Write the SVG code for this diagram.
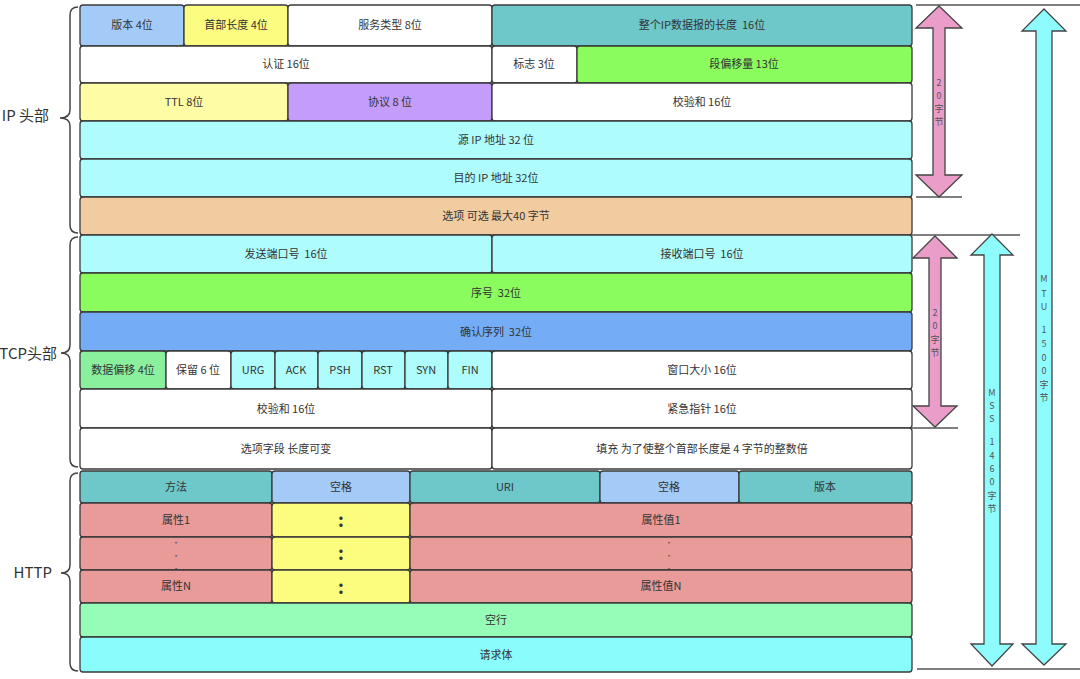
<svg xmlns="http://www.w3.org/2000/svg" width="1080" height="679" viewBox="0 0 1080 679">
<style>
.c{stroke:#3a3a3a;stroke-width:1.3}
text{font-family:"Noto Sans CJK SC","Liberation Sans",sans-serif;font-size:11px;fill:#333;text-anchor:middle;white-space:pre}
.lbl{font-size:15px;text-anchor:end}
.v{font-size:9px;fill:#555}
.br{fill:none;stroke:#444;stroke-width:1.5}
.hl{stroke:#555;stroke-width:1.5}
.ar{stroke:#444;stroke-width:1.3}
.dot{font-size:18px;font-weight:bold}
.sd{font-size:8px;fill:#555}
</style>
<rect width="1080" height="679" fill="#fff"/>

<g id="labels">
<text class="lbl" x="49" y="121">IP 头部</text>
<text class="lbl" x="57" y="359">TCP头部</text>
<text class="lbl" x="52" y="578">HTTP</text>
<path class="br" d="M78,7 Q70,7 70,15 L70,110 Q70,118 60,118 Q70,118 70,126 L70,225 Q70,233 78,233"/>
<path class="br" d="M78,237 Q70,237 70,245 L70,345 Q70,353 61,353 Q70,353 70,361 L70,459 Q70,467 78,467"/>
<path class="br" d="M78,473 Q70,473 70,481 L70,565 Q70,573 61,573 Q70,573 70,581 L70,663 Q70,671 78,671"/>
</g>

<g id="ip">
<g id="ip-version"><rect class="c" x="80" y="5" width="104" height="41" rx="3" fill="#a4cbf8"/><text x="132" y="29">版本 4位</text></g>
<g id="ip-hlen"><rect class="c" x="184" y="5" width="104" height="41" rx="3" fill="#fcfc80"/><text x="236" y="29">首部长度 4位</text></g>
<g id="ip-tos"><rect class="c" x="288" y="5" width="204" height="41" rx="3" fill="#fff"/><text x="390" y="29">服务类型 8位</text></g>
<g id="ip-len"><rect class="c" x="492" y="5" width="420" height="41" rx="3" fill="#6ec7c9"/><text x="702" y="29">整个IP数据报的长度  16位</text></g>
<g id="ip-id"><rect class="c" x="80" y="46" width="412" height="37" rx="3" fill="#fff"/><text x="286" y="68">认证 16位</text></g>
<g id="ip-flag"><rect class="c" x="492" y="46" width="85" height="37" rx="3" fill="#fff"/><text x="534" y="68">标志 3位</text></g>
<g id="ip-off"><rect class="c" x="577" y="46" width="335" height="37" rx="3" fill="#8afc5e"/><text x="744" y="68">段偏移量 13位</text></g>
<g id="ip-ttl"><rect class="c" x="80" y="83" width="208" height="38" rx="3" fill="#fffca6"/><text x="184" y="106">TTL 8位</text></g>
<g id="ip-proto"><rect class="c" x="288" y="83" width="204" height="38" rx="3" fill="#c39df9"/><text x="390" y="106">协议 8 位</text></g>
<g id="ip-csum"><rect class="c" x="492" y="83" width="420" height="38" rx="3" fill="#fff"/><text x="702" y="106">校验和 16位</text></g>
<g id="ip-src"><rect class="c" x="80" y="121" width="832" height="38" rx="3" fill="#aefcfc"/><text x="496" y="144">源 IP 地址 32 位</text></g>
<g id="ip-dst"><rect class="c" x="80" y="159" width="832" height="38" rx="3" fill="#aefcfc"/><text x="496" y="182">目的 IP 地址 32位</text></g>
<g id="ip-opt"><rect class="c" x="80" y="197" width="832" height="38" rx="3" fill="#f1cca0"/><text x="496" y="220">选项 可选 最大40 字节</text></g>
</g>

<g id="tcp">
<g id="tcp-sport"><rect class="c" x="80" y="235" width="412" height="38" rx="3" fill="#aefcfc"/><text x="286" y="258">发送端口号  16位</text></g>
<g id="tcp-dport"><rect class="c" x="492" y="235" width="420" height="38" rx="3" fill="#aefcfc"/><text x="702" y="258">接收端口号  16位</text></g>
<g id="tcp-seq"><rect class="c" x="80" y="273" width="832" height="39" rx="3" fill="#8afc5e"/><text x="496" y="297">序号  32位</text></g>
<g id="tcp-ack"><rect class="c" x="80" y="312" width="832" height="39" rx="3" fill="#74adf6"/><text x="496" y="336">确认序列  32位</text></g>
<g id="tcp-doff"><rect class="c" x="80" y="351" width="86" height="38" rx="3" fill="#8af09e"/><text x="123" y="374">数据偏移 4位</text></g>
<g id="tcp-rsv"><rect class="c" x="166" y="351" width="65" height="38" rx="3" fill="#fff"/><text x="198" y="374">保留 6 位</text></g>
<g id="tcp-urg"><rect class="c" x="231" y="351" width="44" height="38" rx="3" fill="#aefcfc"/><text x="253" y="374">URG</text></g>
<g id="tcp-ackf"><rect class="c" x="275" y="351" width="43" height="38" rx="3" fill="#aefcfc"/><text x="296" y="374">ACK</text></g>
<g id="tcp-psh"><rect class="c" x="318" y="351" width="44" height="38" rx="3" fill="#aefcfc"/><text x="340" y="374">PSH</text></g>
<g id="tcp-rst"><rect class="c" x="362" y="351" width="43" height="38" rx="3" fill="#aefcfc"/><text x="383" y="374">RST</text></g>
<g id="tcp-syn"><rect class="c" x="405" y="351" width="43" height="38" rx="3" fill="#aefcfc"/><text x="426" y="374">SYN</text></g>
<g id="tcp-fin"><rect class="c" x="448" y="351" width="44" height="38" rx="3" fill="#aefcfc"/><text x="470" y="374">FIN</text></g>
<g id="tcp-win"><rect class="c" x="492" y="351" width="420" height="38" rx="3" fill="#fff"/><text x="702" y="374">窗口大小 16位</text></g>
<g id="tcp-csum"><rect class="c" x="80" y="389" width="412" height="39" rx="3" fill="#fff"/><text x="286" y="413">校验和 16位</text></g>
<g id="tcp-urp"><rect class="c" x="492" y="389" width="420" height="39" rx="3" fill="#fff"/><text x="702" y="413">紧急指针 16位</text></g>
<g id="tcp-opt"><rect class="c" x="80" y="428" width="412" height="41" rx="3" fill="#fff"/><text x="286" y="453">选项字段 长度可变</text></g>
<g id="tcp-pad"><rect class="c" x="492" y="428" width="420" height="41" rx="3" fill="#fff"/><text x="702" y="453">填充 为了使整个首部长度是 4 字节的整数倍</text></g>
</g>

<g id="http">
<g id="h-method"><rect class="c" x="80" y="471" width="192" height="32" rx="3" fill="#6ec7c9"/><text x="176" y="491">方法</text></g>
<g id="h-sp1"><rect class="c" x="272" y="471" width="138" height="32" rx="3" fill="#a4cbf8"/><text x="341" y="491">空格</text></g>
<g id="h-uri"><rect class="c" x="410" y="471" width="190" height="32" rx="3" fill="#6ec7c9"/><text x="505" y="491">URI</text></g>
<g id="h-sp2"><rect class="c" x="600" y="471" width="139" height="32" rx="3" fill="#a4cbf8"/><text x="669" y="491">空格</text></g>
<g id="h-ver"><rect class="c" x="739" y="471" width="173" height="32" rx="3" fill="#6ec7c9"/><text x="825" y="491">版本</text></g>

<g id="h-a1"><rect class="c" x="80" y="503" width="192" height="34" rx="3" fill="#e89b99"/><text x="176" y="524">属性1</text></g>
<g id="h-c1"><rect class="c" x="272" y="503" width="138" height="34" rx="3" fill="#fcfc7e"/><text class="dot" x="341" y="527">:</text></g>
<g id="h-v1"><rect class="c" x="410" y="503" width="502" height="34" rx="3" fill="#e89b99"/><text x="661" y="524">属性值1</text></g>

<g id="h-a2"><rect class="c" x="80" y="537" width="192" height="33" rx="3" fill="#e89b99"/><text class="sd" x="176" y="546">·</text><text class="sd" x="176" y="559">·</text><text class="sd" x="176" y="572">·</text></g>
<g id="h-c2"><rect class="c" x="272" y="537" width="138" height="33" rx="3" fill="#fcfc7e"/><text class="dot" x="341" y="560">:</text></g>
<g id="h-v2"><rect class="c" x="410" y="537" width="502" height="33" rx="3" fill="#e89b99"/><text class="sd" x="669" y="546">·</text><text class="sd" x="669" y="559">·</text><text class="sd" x="669" y="572">·</text></g>

<g id="h-an"><rect class="c" x="80" y="570" width="192" height="33" rx="3" fill="#e89b99"/><text x="176" y="590">属性N</text></g>
<g id="h-cn"><rect class="c" x="272" y="570" width="138" height="33" rx="3" fill="#fcfc7e"/><text class="dot" x="341" y="594">:</text></g>
<g id="h-vn"><rect class="c" x="410" y="570" width="502" height="33" rx="3" fill="#e89b99"/><text x="661" y="590">属性值N</text></g>

<g id="h-blank"><rect class="c" x="80" y="603" width="832" height="34" rx="3" fill="#96fdb8"/><text x="496" y="624">空行</text></g>
<g id="h-body"><rect class="c" x="80" y="637" width="832" height="35" rx="3" fill="#8afcfc"/><text x="496" y="659">请求体</text></g>
</g>

<g id="connectors">
<line class="hl" x1="916" y1="5" x2="1080" y2="5"/>
<line class="hl" x1="916" y1="197" x2="962" y2="197"/>
<line class="hl" x1="912" y1="235" x2="1020" y2="235"/>
<line class="hl" x1="912" y1="428" x2="958" y2="428"/>
<line class="hl" x1="917" y1="669" x2="1080" y2="669"/>
<polygon class="ar" fill="#ea9dc8" points="939,6 962,28 945,28 945,175 962,175 939,197 916,175 933,175 933,28 916,28"/>
<polygon class="ar" fill="#ea9dc8" points="935,236 957,258 941,258 941,406 957,406 935,427 913,406 929,406 929,258 913,258"/>
<polygon class="ar" fill="#8efcfc" points="992,234 1013,255 1000,255 1000,644 1013,644 992,666 971,644 984,644 984,255 971,255"/>
<polygon class="ar" fill="#8efcfc" points="1044,9 1066,31 1052,31 1052,644 1066,644 1044,665 1022,644 1036,644 1036,31 1022,31"/>
</g>

<g id="arrow-labels">
<text class="v" x="939" y="86">2</text><text class="v" x="939" y="99">0</text><text class="v" x="939" y="112">字</text><text class="v" x="939" y="125">节</text>
<text class="v" x="935" y="316">2</text><text class="v" x="935" y="329">0</text><text class="v" x="935" y="343">字</text><text class="v" x="935" y="356">节</text>
<text class="v" x="992" y="396">M</text><text class="v" x="992" y="409">S</text><text class="v" x="992" y="422">S</text>
<text class="v" x="992" y="445">1</text><text class="v" x="992" y="459">4</text><text class="v" x="992" y="472">6</text><text class="v" x="992" y="485">0</text><text class="v" x="992" y="499">字</text><text class="v" x="992" y="512">节</text>
<text class="v" x="1044" y="282">M</text><text class="v" x="1044" y="297">T</text><text class="v" x="1044" y="310">U</text>
<text class="v" x="1044" y="333">1</text><text class="v" x="1044" y="347">5</text><text class="v" x="1044" y="361">0</text><text class="v" x="1044" y="374">0</text><text class="v" x="1044" y="388">字</text><text class="v" x="1044" y="401">节</text>
</g>
</svg>
